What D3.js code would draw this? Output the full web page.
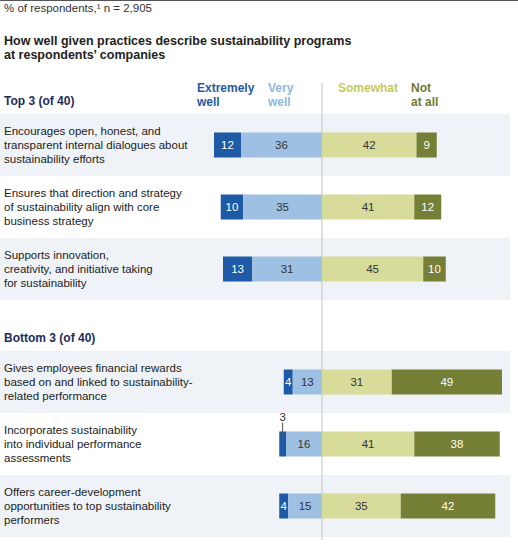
<!DOCTYPE html>
<html><head><meta charset="utf-8">
<script src="https://cdn.jsdelivr.net/npm/d3@7"></script>
<style>body{margin:0;background:#fff;font-family:"Liberation Sans",Arial,sans-serif}</style>
</head><body><div id="chart"></div>
<script>
const topLabels = [
  ["Encourages open, honest, and", "transparent internal dialogues about", "sustainability efforts"],
  ["Ensures that direction and strategy", "of sustainability align with core", "business strategy"],
  ["Supports innovation,", "creativity, and initiative taking", "for sustainability"]
];
const bottomLabels = [
  ["Gives employees financial rewards", "based on and linked to sustainability-", "related performance"],
  ["Incorporates sustainability", "into individual performance", "assessments"],
  ["Offers career-development", "opportunities to top sustainability", "performers"]
];
const extremely = [12, 10, 13, 4, 3, 4];
const very = [36, 35, 31, 13, 16, 15];
const somewhat = [42, 41, 45, 31, 41, 35];
const notAtAll = [9, 12, 10, 49, 38, 42];
const labels = topLabels.concat(bottomLabels);

const W = 518, H = 547;
const svg = d3.select("#chart").append("svg").attr("width", W).attr("height", H);
const x = d3.scaleLinear().domain([-50, 80]).range([209.5, 502]);
const rowY = [145, 207, 269, 382, 444, 506];
const rowH = 62, barH = 25;
const colors = ["#1f5aa6", "#9dc0e3", "#d8dc9a", "#757f35"];

svg.append("line").attr("x1", 0).attr("x2", W).attr("y1", 0.5).attr("y2", 0.5).attr("stroke", "#555");
svg.append("text").attr("x", 4).attr("y", 12).attr("font-size", 11.5).attr("fill", "#333").text("% of respondents,¹ n = 2,905");
svg.append("text").attr("x", 4).attr("y", 45).attr("font-size", 12.5).attr("font-weight", "bold").attr("fill", "#222").text("How well given practices describe sustainability programs");
svg.append("text").attr("x", 4).attr("y", 59).attr("font-size", 12.5).attr("font-weight", "bold").attr("fill", "#222").text("at respondents’ companies");
svg.append("text").attr("x", 4).attr("y", 105).attr("font-size", 12).attr("font-weight", "bold").attr("fill", "#1b2c5a").text("Top 3 (of 40)");
svg.append("text").attr("x", 4).attr("y", 342).attr("font-size", 12).attr("font-weight", "bold").attr("fill", "#1b2c5a").text("Bottom 3 (of 40)");

const heads = [["Extremely", "well", 197, colors[0]], ["Very", "well", 268, "#8fb8e0"], ["Somewhat", "", 338, "#c4ca5a"], ["Not", "at all", 411, "#6f7a2e"]];
heads.forEach(h => {
  const t = svg.append("text").attr("x", h[2]).attr("font-size", 12).attr("font-weight", "bold").attr("fill", h[3]);
  t.append("tspan").attr("x", h[2]).attr("y", 92).text(h[0]);
  t.append("tspan").attr("x", h[2]).attr("y", 106).text(h[1]);
});

rowY.forEach((cy, i) => {
  if (i % 3 !== 1) svg.append("rect").attr("x", 0).attr("y", cy - rowH / 2).attr("width", 510).attr("height", rowH).attr("fill", "#eff3f7");
});

svg.append("line").attr("x1", x(0)).attr("x2", x(0)).attr("y1", 83).attr("y2", 540).attr("stroke", "#c8cdd2").attr("stroke-width", 1.2);

rowY.forEach((cy, i) => {
  const t = svg.append("text").attr("font-size", 11.5).attr("fill", "#222");
  labels[i].forEach((l, j) => t.append("tspan").attr("x", 4).attr("y", cy - 10 + j * 14).text(l));
  const segs = [
    [-extremely[i] - very[i], -very[i], extremely[i]],
    [-very[i], 0, very[i]],
    [0, somewhat[i], somewhat[i]],
    [somewhat[i], somewhat[i] + notAtAll[i], notAtAll[i]]
  ];
  segs.forEach((s, k) => {
    svg.append("rect").attr("x", x(s[0])).attr("y", cy - barH / 2).attr("width", x(s[1]) - x(s[0])).attr("height", barH).attr("fill", colors[k]);
    const cx = (x(s[0]) + x(s[1])) / 2;
    if (s[2] >= 4) {
      svg.append("text").attr("x", cx).attr("y", cy + 4).attr("text-anchor", "middle").attr("font-size", 11.5)
        .attr("fill", (k === 0 || k === 3) ? "#fff" : "#333").text(s[2]);
    } else {
      svg.append("line").attr("x1", cx).attr("x2", cx).attr("y1", cy - barH / 2 - 9).attr("y2", cy - barH / 2 + 3).attr("stroke", "#555");
      svg.append("text").attr("x", cx).attr("y", cy - barH / 2 - 11).attr("text-anchor", "middle").attr("font-size", 11.5).attr("fill", "#333").text(s[2]);
    }
  });
});
</script></body></html>
